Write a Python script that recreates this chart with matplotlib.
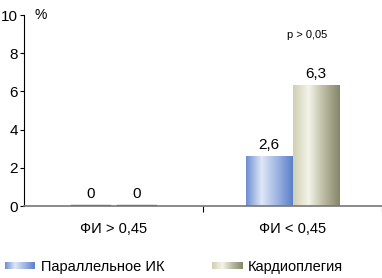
import matplotlib
matplotlib.use('Agg')
import matplotlib.pyplot as plt
import numpy as np
from matplotlib.colors import LinearSegmentedColormap

plt.rcParams['font.family'] = ['Liberation Sans Narrow', 'Liberation Sans', 'DejaVu Sans']

categories = ['ФИ > 0,45', 'ФИ < 0,45']
series_names = ['Параллельное ИК', 'Кардиоплегия']
parallel = [0, 2.6]
cardio = [0, 6.3]
value_labels = [['0', '2,6'], ['0', '6,3']]
yticks = [0, 2, 4, 6, 8, 10]

blue_cmap = LinearSegmentedColormap.from_list('b', ['#6d8dd2', '#dfe7f7', '#9fb4e2', '#5b7fc9'])
beige_cmap = LinearSegmentedColormap.from_list('g', ['#cfcfb2', '#f4f4ea', '#b9b9a0', '#85856a'])

fig = plt.figure(figsize=(3.82, 2.78), dpi=100)
ax = fig.add_axes([24/382, 72/278, 358/382, 191/278])

x = np.arange(len(categories)) + 0.5
w = 0.26
grad = np.linspace(0, 1, 256).reshape(1, -1)
for vals, offs, cmap, labs in [(parallel, -w/2, blue_cmap, value_labels[0]),
                               (cardio, w/2, beige_cmap, value_labels[1])]:
    for xi, v, lab in zip(x, vals, labs):
        left = xi + offs - w/2
        if v > 0:
            ax.imshow(grad, cmap=cmap, aspect='auto', extent=[left, left + w, 0, v], zorder=2)
        else:
            ax.plot([left + 0.02, left + w - 0.02], [0.05, 0.05], color='#666666', lw=1, zorder=2)
        ax.text(xi + offs, v + 0.25, lab, ha='center', va='bottom', fontsize=11)

ax.set_xlim(0, 2)
ax.set_ylim(0, 10)
ax.set_yticks(yticks)
ax.set_yticklabels([str(t) for t in yticks], fontsize=11)
ax.set_xticks([1, 2])
ax.set_xticklabels([])
ax.tick_params(axis='x', length=4, width=0.8, direction='out')
ax.tick_params(axis='y', length=3, width=0.8, direction='out', pad=1.5)
ax.spines['top'].set_visible(False)
ax.spines['right'].set_visible(False)
ax.spines['bottom'].set_color('#777777')
ax.spines['bottom'].set_linewidth(1.2)
for xi, c in zip(x, categories):
    ax.text(xi, -1.2, c, ha='center', va='center', fontsize=10.5)

ax.text(0.03, 1.0, '%', transform=ax.transAxes, fontsize=10, va='center')
ax.text(1.58, 8.95, 'p > 0,05', ha='center', va='center', fontsize=8)

# legend
for lx, cmap, name in [(5, blue_cmap, series_names[0]), (212, beige_cmap, series_names[1])]:
    lax = fig.add_axes([lx/382, 9/278, 30/382, 7/278])
    lax.imshow(grad, cmap=cmap, aspect='auto')
    lax.axis('off')
    fig.text((lx + 36)/382, 11.5/278, name, fontsize=10.5, va='center')

fig.savefig('out.png', dpi=100)
